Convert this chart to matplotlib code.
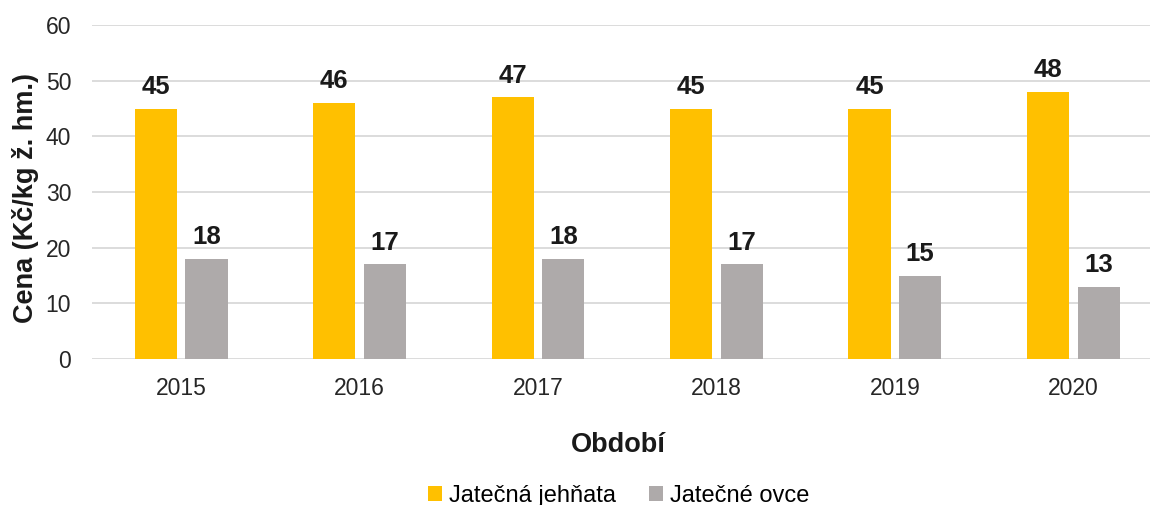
import matplotlib.pyplot as plt
import numpy as np

plt.rcParams['font.family'] = ['Liberation Sans', 'DejaVu Sans']

roky = ["2015", "2016", "2017", "2018", "2019", "2020"]
jehnata = [45, 46, 47, 45, 45, 48]
ovce = [18, 17, 18, 17, 15, 13]

fig = plt.figure(figsize=(11.5, 5.05), dpi=100)
ax = fig.add_axes([92 / 1150, (505 - 359) / 505, (1150 - 92) / 1150, (359 - 25) / 505])

x = np.arange(len(roky))
w = 0.236
off = 0.142
b1 = ax.bar(x - off, jehnata, w, color="#FFC000", label="Jatečná jehňata", zorder=3)
b2 = ax.bar(x + off, ovce, w, color="#AEAAAA", label="Jatečné ovce", zorder=3)

for bars in (b1, b2):
    for b in bars:
        ax.annotate(f"{b.get_height():.0f}", (b.get_x() + b.get_width() / 2, b.get_height()),
                    xytext=(0, 7), textcoords="offset points", ha="center", va="bottom",
                    fontsize=18.5, fontweight="bold", color="#1a1a1a")

ax.set_ylim(0, 60)
ax.set_yticks(range(0, 61, 10))
ax.set_xlim(-0.5, 5.43)
ax.set_xticks(x)
ax.set_xticklabels(roky)
ax.yaxis.grid(True, color="#D9D9D9", linewidth=1.3, zorder=0)
for s in ax.spines.values():
    s.set_visible(False)
ax.tick_params(axis="both", length=0, labelsize=16.5, colors="#262626")
ax.tick_params(axis="x", pad=13)
ax.tick_params(axis="y", pad=15)

ax.set_ylabel("Cena (Kč/kg ž. hm.)", fontsize=19.5, fontweight="bold", color="#1a1a1a")
ax.yaxis.set_label_coords(-0.063, 0.483)
ax.set_xlabel("Období", fontsize=19.5, fontweight="bold", color="#1a1a1a")
ax.xaxis.set_label_coords(0.497, -0.257)
ax.xaxis.label.set_va("center")
ax.yaxis.label.set_va("center")

fig.legend(loc="center", bbox_to_anchor=(0.538, 0.018), ncol=2, frameon=False,
           fontsize=17, handlelength=0.6, handleheight=0.6, handletextpad=0.3, columnspacing=1.4)

fig.savefig("out.png", dpi=100)
